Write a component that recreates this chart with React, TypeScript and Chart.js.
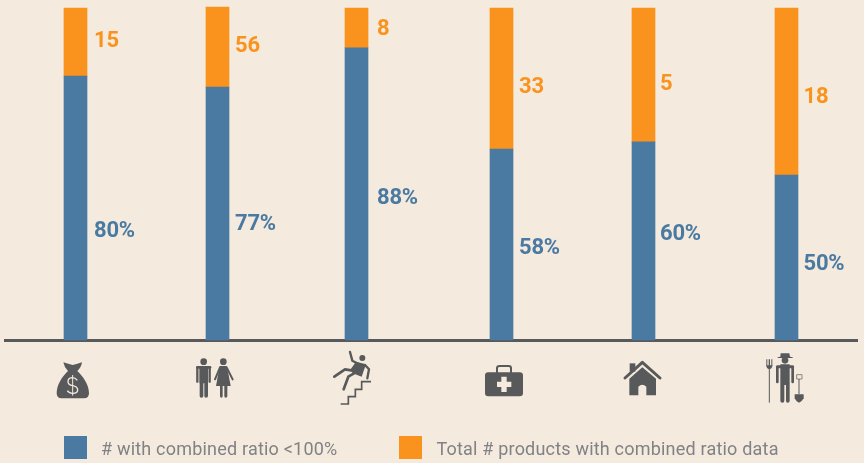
import React, { useEffect, useRef } from "react";
import { Chart, registerables } from "chart.js";

Chart.register(...registerables);

const categories = ["Money", "People", "Falls", "Health", "Home", "Farm"];
const belowShare = [79.5, 76.2, 88, 57.5, 59.7, 49.7];
const remainderShare = [20.5, 24.1, 12, 42.5, 40.3, 50.3];
const percentLabels = ["80%", "77%", "88%", "58%", "60%", "50%"];
const totalLabels = ["15", "56", "8", "33", "5", "18"];
const seriesNames = ["# with combined ratio <100%", "Total # products with combined ratio data"];

const BG = "#F4EADD";
const BLUE = "#4A7AA2";
const ORANGE = "#F9931D";
const DARK = "#58595B";
const GREY = "#808285";

// placement of the hand-set annotations, in axis units
const percentLevels = [32.8, 34.9, 42.5, 27.7, 31.9, 22.6];
const totalLevels = [89.8, 88.3, 93.4, 76.2, 77.1, 72.9];
const labelGaps = [7, 6, 9, 6, 5, 5.5];
const barNudge = [-0.5, -0.5, -3.5, -0.5, -0.5, 0.5];

type Icon = { o: number; fill?: string[]; strokes?: [string, number][]; cut?: string[]; cutStrokes?: [string, number][]; thin?: [string, number][] };
const circle = (x: number, y: number, r: number) => `M${x - r} ${y}a${r} ${r} 0 1 0 ${2 * r} 0a${r} ${r} 0 1 0 ${-2 * r} 0Z`;

const icons: Icon[] = [
  {
    o: 226.5,
    fill: ["M190 97Q205 102 218 105Q232 102 246 97Q245 110 232 123C250 140 267 165 267 190Q267 205 252 205L185 205Q170 205 170 190C170 165 186 140 204 123Q192 110 190 97Z"],
    cutStrokes: [["M232 151Q226 143 216 143Q204 144 204 155Q204 164 218 167Q233 170 233 180Q233 190 218 190Q207 190 202 182", 4], ["M218 135V197", 3]],
  },
  {
    o: 652.5,
    fill: [
      circle(611, 95, 10), circle(670, 95, 10),
      "M598 108H624V198Q624 203 618 203Q613 203 613 198V160H610V198Q610 203 604 203Q599 203 599 198V160H598Z",
      "M660 108H680L686 135L692 168H648L654 135Z",
      "M660 165H668V198Q668 203 664 203Q660 203 660 198Z",
      "M673 165H682V198Q682 203 677 203Q673 203 673 198Z",
    ],
    strokes: [["M592 113V155", 7], ["M629 113V155", 7], ["M592 112H630", 8], ["M660 112L645 148", 6], ["M680 112L698 148", 6]],
  },
  {
    o: 1069.5,
    fill: [circle(1087, 84, 9), "M1068 95L1098 103L1085 140L1058 130L1052 118Z"],
    strokes: [["M1050 66L1057 92L1080 104", 7], ["M1095 105L1107 118L1102 145", 7], ["M1058 122L1035 118L1003 140", 8], ["M1062 130L1045 140L1031 178", 8]],
    thin: [["M1113 155H1085V178H1066V200H1045V222H1022", 5]],
  },
  {
    o: 208.5,
    fill: ["M169 127H263Q273 127 273 137V189Q273 199 263 199H169Q159 199 159 189V137Q159 127 169 127Z"],
    strokes: [["M195 127V115Q195 108 203 108H230Q237 108 237 115V127", 6]],
    cut: ["M208 140H224V155H238V171H224V186H208V171H195V155H208Z"],
  },
  {
    o: 634.5,
    fill: ["M593 100H610V125H593Z", "M592 196V146L631 112L672 146V196H643V170Q631 158 619 170V196Z"],
    strokes: [["M579 144L631 97L684 144", 9]],
  },
  {
    o: 1063.5,
    fill: [
      "M1046 70H1072L1074 80Q1084 81 1083 84H1036Q1035 81 1045 80Z",
      circle(1059, 91, 10),
      "M1045 103H1073V160V212Q1073 218 1067 218Q1062 218 1062 212V165H1057V212Q1057 218 1051 218Q1045 218 1045 212Z",
      "M1088 193H1115V205Q1110 215 1101 218Q1092 215 1088 205Z",
      "M1003 88H1006V108H1003Z", "M1010 88H1014V108H1010Z", "M1018 88H1021V108H1018Z", "M1003 106H1021Q1021 116 1012 118Q1003 116 1003 106Z",
    ],
    strokes: [["M1036 112V156", 8], ["M1082 112V156", 8], ["M1036 110H1082", 9]],
    thin: [["M1012 115V218", 3], ["M1101 147V193", 3], ["M1094 134H1110V147H1094Z", 2]],
  },
];

function drawIcon(ctx: CanvasRenderingContext2D, icon: Icon, cx: number) {
  ctx.save();
  ctx.translate(cx - icon.o / 3, 330);
  ctx.scale(1 / 3, 1 / 3);
  ctx.lineCap = "round";
  ctx.lineJoin = "round";
  ctx.fillStyle = DARK;
  ctx.strokeStyle = DARK;
  (icon.fill || []).forEach((d) => ctx.fill(new Path2D(d)));
  (icon.strokes || []).forEach(([d, w]) => { ctx.lineWidth = w; ctx.stroke(new Path2D(d)); });
  ctx.lineCap = "butt";
  ctx.lineJoin = "miter";
  (icon.thin || []).forEach(([d, w]) => { ctx.lineWidth = w; ctx.stroke(new Path2D(d)); });
  ctx.fillStyle = BG;
  ctx.strokeStyle = BG;
  (icon.cut || []).forEach((d) => ctx.fill(new Path2D(d)));
  (icon.cutStrokes || []).forEach(([d, w]) => { ctx.lineWidth = w; ctx.stroke(new Path2D(d)); });
  ctx.restore();
}

function swatch(color: string) {
  const c = document.createElement("canvas");
  c.width = 23;
  c.height = 28;
  const g = c.getContext("2d")!;
  g.fillStyle = color;
  g.fillRect(0, 0, 23, 23);
  return c;
}

const annotations = {
  id: "annotations",
  beforeLayout(chart: any) {
    chart.ctx.letterSpacing = "0.2px";
    const legend = chart.legend;
    if (legend && !legend.__wrapped) {
      const fit = legend.fit;
      legend.fit = function () {
        fit.call(this);
        this.height = 79;
      };
      legend.__wrapped = true;
    }
  },
  afterLayout(chart: any) {
    if (chart.legend) chart.legend.left = 2;
  },
  afterDatasetsUpdate(chart: any) {
    chart.data.datasets.forEach((_: any, d: number) => {
      chart.getDatasetMeta(d).data.forEach((el: any, i: number) => {
        el.x += barNudge[i];
      });
    });
  },
  afterDraw(chart: any) {
    const { ctx, scales } = chart;
    const bars = chart.getDatasetMeta(0).data;
    ctx.save();
    ctx.font = "700 22px Roboto";
    ctx.letterSpacing = "-0.2px";
    ctx.textBaseline = "middle";
    ctx.textAlign = "left";
    bars.forEach((el: any, i: number) => {
      const x = el.x + el.width / 2 + labelGaps[i];
      ctx.fillStyle = BLUE;
      ctx.fillText(percentLabels[i], x, scales.y.getPixelForValue(percentLevels[i]));
      ctx.fillStyle = ORANGE;
      ctx.fillText(totalLabels[i], x, scales.y.getPixelForValue(totalLevels[i]));
      drawIcon(ctx, icons[i], el.x);
    });
    ctx.restore();
  },
};

export default function App() {
  const ref = useRef<HTMLCanvasElement>(null);
  useEffect(() => {
    const chart = new Chart(ref.current!, {
      type: "bar",
      data: {
        labels: categories,
        datasets: [
          { label: seriesNames[0], data: belowShare, backgroundColor: BLUE, stack: "s", barThickness: 23, clip: false },
          { label: seriesNames[1], data: remainderShare, backgroundColor: ORANGE, stack: "s", barThickness: 23, clip: false },
        ],
      },
      options: {
        responsive: false,
        animation: false,
        layout: { padding: { left: 5, right: 7, top: 8, bottom: 0 } },
        scales: {
          x: {
            stacked: true,
            grid: { display: false },
            border: { color: DARK, width: 3 },
            ticks: { display: false },
            afterFit: (s: any) => { s.height = 44; },
          },
          y: { stacked: true, display: false, min: 0, max: 100 },
        },
        plugins: {
          tooltip: { enabled: false },
          legend: {
            position: "bottom",
            align: "start",
            labels: {
              usePointStyle: true,
              pointStyleWidth: 33,
              padding: 57,
              color: GREY,
              font: { family: "Roboto", size: 18, weight: "400" },
              generateLabels: (c: any) =>
                Chart.defaults.plugins.legend.labels.generateLabels(c).map((item: any, i: number) => ({
                  ...item,
                  pointStyle: swatch(i === 0 ? BLUE : ORANGE),
                })),
            },
          },
        },
      } as any,
      plugins: [annotations as any],
    });
    return () => chart.destroy();
  }, []);
  return (
    <div style={{ position: "fixed", left: 0, top: 0, width: 864, height: 463, background: BG }}>
      <canvas ref={ref} width={864} height={463} style={{ display: "block", width: 864, height: 463 }} />
    </div>
  );
}
